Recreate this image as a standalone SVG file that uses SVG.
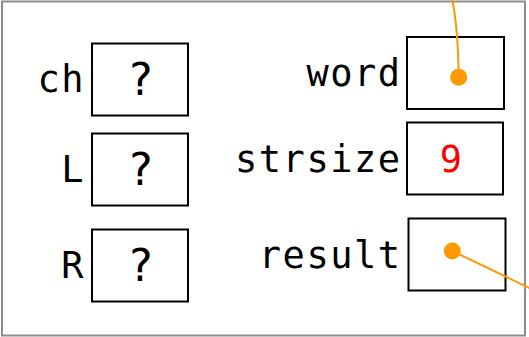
<svg xmlns="http://www.w3.org/2000/svg" width="529" height="337" viewBox="0 0 529 337">
  <style>
    .frame { fill: #ffffff; stroke: #8c8c8c; stroke-width: 2; }
    .cell { fill: #ffffff; stroke: #000000; stroke-width: 2; }
    .label { font-family: "DejaVu Sans Mono", "Liberation Mono", monospace; font-size: 37px; letter-spacing: 1.5px; fill: #000000; text-anchor: end; }
    .val { font-family: "DejaVu Sans Mono", "Liberation Mono", monospace; font-size: 44px; fill: #000000; text-anchor: middle; }
    .num { font-family: "DejaVu Sans Mono", "Liberation Mono", monospace; font-size: 37px; fill: #ff0000; text-anchor: middle; }
    .ptr { fill: none; stroke: #ff9900; stroke-width: 2; }
    .dot { fill: #ff9900; }
  </style>

  <rect class="frame" x="2" y="1.5" width="523" height="334"/>

  <g id="ch">
    <rect class="cell" x="92" y="43.5" width="96" height="72"/>
    <text class="label" x="85" y="91.5">ch</text>
    <text class="val" x="140.5" y="95">?</text>
  </g>
  <g id="L">
    <rect class="cell" x="92" y="133.5" width="96" height="72"/>
    <text class="label" x="85" y="181.5">L</text>
    <text class="val" x="140.5" y="185">?</text>
  </g>
  <g id="R">
    <rect class="cell" x="92" y="229.5" width="96" height="72"/>
    <text class="label" x="85" y="277.5">R</text>
    <text class="val" x="140.5" y="281">?</text>
  </g>

  <g id="word">
    <rect class="cell" x="407" y="37" width="97" height="72"/>
    <text class="label" x="401.5" y="86">word</text>
  </g>
  <g id="strsize">
    <rect class="cell" x="407" y="122.5" width="96" height="72"/>
    <text class="label" x="401.5" y="171.5">strsize</text>
    <text class="num" x="451" y="172">9</text>
  </g>
  <g id="result">
    <rect class="cell" x="408.5" y="218.5" width="97" height="72"/>
    <text class="label" x="401.5" y="267.5">result</text>
  </g>

  <g id="connectors">
    <path class="ptr" d="M458.7,77.3 C458.3,45 456,18 452,-2"/>
    <circle class="dot" cx="458.7" cy="77.3" r="8.5"/>
    <path class="ptr" d="M452.3,251 L535,290.7"/>
    <circle class="dot" cx="452.3" cy="251" r="8.5"/>
  </g>
</svg>
